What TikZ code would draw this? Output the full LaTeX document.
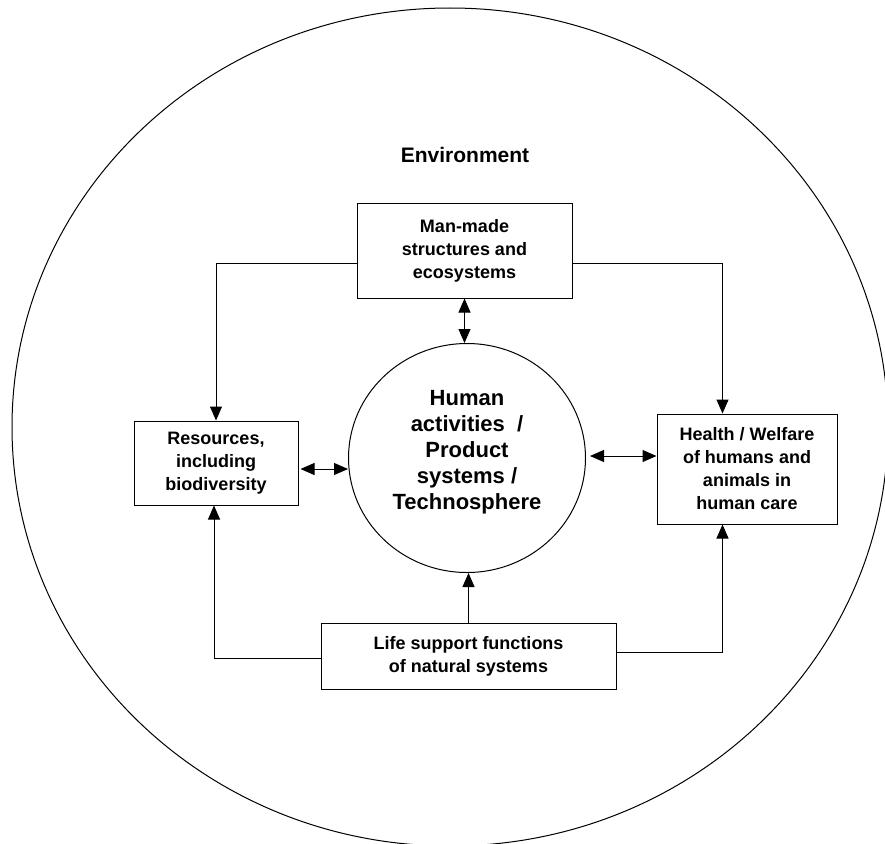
\documentclass[tikz,border=0pt]{standalone}
\usepackage{fontspec}
\setmainfont{Liberation Sans}
\usetikzlibrary{arrows.meta,shapes.geometric,calc}
\tikzset{
  boxnode/.style={draw,line width=1pt,inner sep=0pt,align=center,
    font=\bfseries\fontsize{18}{23}\selectfont},
  tip/.style={Triangle[length=14pt,width=12pt]},
  arr/.style={line width=1pt,-{Triangle[length=14pt,width=12pt]}},
  darr/.style={line width=1pt,{Triangle[length=14pt,width=12pt]}-{Triangle[length=14pt,width=12pt]}},
}
\begin{document}
\begin{tikzpicture}[x=1pt,y=-1pt]
\useasboundingbox (0,0) rectangle (885,843);
\begin{scope}
\clip (0,0) rectangle (885,843);
\draw[line width=1pt] (450,427) ellipse [x radius=438, y radius=419];
\end{scope}
\node[font=\bfseries\fontsize{21}{26}\selectfont] (env) at (465,155) {Environment};
\node[boxnode,minimum width=215pt,minimum height=95pt] (mm) at (464.5,250.5)
  {Man-made\\structures and\\ecosystems};
\node[boxnode,minimum width=164pt,minimum height=84pt] (res) at (216,463)
  {Resources,\\including\\biodiversity};
\node[boxnode,minimum width=180pt,minimum height=110pt] (hw) at (747,469)
  {Health / Welfare\\of humans and\\animals in\\human care};
\node[boxnode,minimum width=295pt,minimum height=66pt] (ls) at (468.5,656)
  {Life support functions\\of natural systems};
\node[draw,ellipse,line width=1pt,inner sep=0pt,minimum width=237pt,minimum height=229pt] (hum) at (467,458) {};
\node[align=center,font=\bfseries\fontsize{22}{26}\selectfont] (humtext) at (467,452)
  {Human\\activities~~/\\Product\\systems /\\Technosphere};
% connectors
\draw[darr] (mm.south) -- (mm.south |- hum.north);
\draw[darr] ([xshift=2pt,yshift=-6pt]res.east) -- ([yshift=-6pt]res.east -| hum.west);
\draw[darr] ([xshift=4pt,yshift=2pt]hum.east) -- ([yshift=2pt]hum.east -| hw.west);
\draw[arr] ($(mm.south west)+(0,-35)$) -| (res.north);
\draw[arr] ($(mm.south east)+(0,-35)$) -| ($(hw.north west)+(66,0)$);
\draw[arr] ($(ls.north west)+(0,36)$) -| ($(res.south)+(-2,0)$);
\draw[arr] ($(ls.north east)+(0,30)$) -| ($(hw.south west)+(66,0)$);
\draw[arr] (ls.north) -- (ls.north |- hum.south);
\end{tikzpicture}
\end{document}
